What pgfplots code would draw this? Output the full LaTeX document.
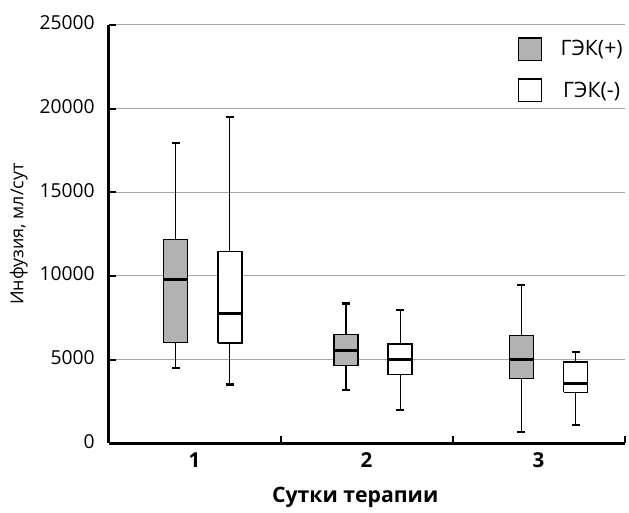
\documentclass[border=0pt]{standalone}
\usepackage{fontspec}
\setmainfont{Open Sans}
\usepackage{pgfplots}
\pgfplotsset{compat=1.18}

\definecolor{boxgray}{HTML}{B2B2B2}
\definecolor{gridgray}{HTML}{A6A6A6}

\begin{document}
\begin{tikzpicture}
\begin{axis}[
    scale only axis,
    width=388.5pt, height=315pt,
    xmin=0.5, xmax=3.5,
    ymin=0, ymax=25000,
    axis lines=left,
    axis line style={-, line width=2pt, black},
    tick align=inside,
    major tick length=5.5pt,
    tick style={black, line width=1.6pt},
    xtick={1.5,2.5,3.5},
    xticklabels={},
    extra x ticks={1,2,3},
    extra x tick labels={1,2,3},
    extra x tick style={major tick length=0pt,
        tick label style={font=\fontsize{15.5}{18}\selectfont\bfseries, yshift=-3.5pt}},
    ytick={0,5000,10000,15000,20000,25000},
    yticklabel style={font=\fontsize{14.5}{17}\selectfont, xshift=-7pt, yshift=1.5pt},
    /pgf/number format/assume math mode=true,
    /pgf/number format/set thousands separator={},
    scaled y ticks=false,
    ymajorgrids,
    grid style={gridgray, line width=0.7pt},
    ylabel={Инфузия, мл/сут},
    ylabel style={at={(axis description cs:-0.174,0.5)}, anchor=center,
        font=\fontsize{13.5}{16}\selectfont},
    xlabel={Сутки терапии},
    xlabel style={at={(axis description cs:0.478,-0.13)}, anchor=center,
        font=\fontsize{16}{19}\selectfont\bfseries},
    unbounded coords=jump,
    legend style={draw=none, fill=none, at={(0.793,0.971)}, anchor=north west,
        inner sep=0pt, row sep=13pt,
        font=\fontsize{16}{19}\selectfont,
        nodes={inner sep=0pt},
        /tikz/every odd column/.append style={column sep=14pt}},
    legend image code/.code={\draw[#1, line width=1pt] (0pt,-8.5pt) rectangle (17pt,8.5pt);},
]
% boxes (lower quartile -- upper quartile)
\addplot[draw=black, fill=boxgray, line width=1.1pt] coordinates
    {(0.8205,6010) (0.9595,6010) (0.9595,12180) (0.8205,12180) (0.8205,6010)};
\addlegendentry{ГЭК(+)}
\addplot[draw=black, fill=white, line width=1.1pt] coordinates
    {(1.1355,5990) (1.2745,5990) (1.2745,11470) (1.1355,11470) (1.1355,5990)};
\addlegendentry{ГЭК(-)}
\addplot[draw=black, fill=boxgray, line width=1.1pt, forget plot] coordinates
    {(1.8105,4640) (1.9495,4640) (1.9495,6490) (1.8105,6490) (1.8105,4640)};
\addplot[draw=black, fill=white, line width=1.1pt, forget plot] coordinates
    {(2.1255,4110) (2.2645,4110) (2.2645,5930) (2.1255,5930) (2.1255,4110)};
\addplot[draw=black, fill=boxgray, line width=1.1pt, forget plot] coordinates
    {(2.8305,3870) (2.9695,3870) (2.9695,6450) (2.8305,6450) (2.8305,3870)};
\addplot[draw=black, fill=white, line width=1.1pt, forget plot] coordinates
    {(3.1455,3040) (3.2845,3040) (3.2845,4860) (3.1455,4860) (3.1455,3040)};

% whiskers
\addplot[black, line width=0.9pt, forget plot] coordinates {
    (0.89,12180) (0.89,17920) (nan,nan) (0.89,6010) (0.89,4480) (nan,nan)
    (1.205,11470) (1.205,19520) (nan,nan) (1.205,5990) (1.205,3510) (nan,nan)
    (1.88,6490) (1.88,8350) (nan,nan) (1.88,4640) (1.88,3170) (nan,nan)
    (2.195,5930) (2.195,7990) (nan,nan) (2.195,4110) (2.195,1980) (nan,nan)
    (2.9,6450) (2.9,9480) (nan,nan) (2.9,3870) (2.9,700) (nan,nan)
    (3.215,4860) (3.215,5460) (nan,nan) (3.215,3040) (3.215,1090)};
% whisker caps
\addplot[black, line width=1.6pt, forget plot] coordinates {
    (0.867,17920) (0.913,17920) (nan,nan) (0.867,4480) (0.913,4480) (nan,nan)
    (1.182,19520) (1.228,19520) (nan,nan) (1.182,3510) (1.228,3510) (nan,nan)
    (1.857,8350) (1.903,8350) (nan,nan) (1.857,3170) (1.903,3170) (nan,nan)
    (2.172,7990) (2.218,7990) (nan,nan) (2.172,1980) (2.218,1980) (nan,nan)
    (2.877,9480) (2.923,9480) (nan,nan) (2.877,700) (2.923,700) (nan,nan)
    (3.192,5460) (3.238,5460) (nan,nan) (3.192,1090) (3.238,1090)};
% medians
\addplot[black, line width=2.2pt, forget plot] coordinates {
    (0.8205,9760) (0.9595,9760) (nan,nan)
    (1.1355,7760) (1.2745,7760) (nan,nan)
    (1.8105,5520) (1.9495,5520) (nan,nan)
    (2.1255,4980) (2.2645,4980) (nan,nan)
    (2.8305,4980) (2.9695,4980) (nan,nan)
    (3.1455,3570) (3.2845,3570)};
\end{axis}
\path (-81.75pt,-48.75pt) rectangle (390pt,333.75pt);
\end{tikzpicture}
\end{document}
